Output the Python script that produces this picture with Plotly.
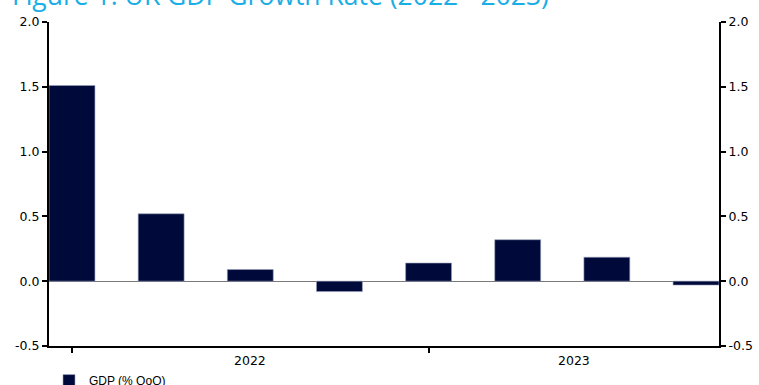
import plotly.graph_objects as go

# Quarterly UK GDP growth, % quarter on quarter
quarters = ["2022 Q1", "2022 Q2", "2022 Q3", "2022 Q4",
            "2023 Q1", "2023 Q2", "2023 Q3", "2023 Q4"]
gdp_qoq = [1.51, 0.52, 0.09, -0.08, 0.14, 0.32, 0.185, -0.03]
years = ["2022", "2023"]
y_ticks = [-0.5, 0.0, 0.5, 1.0, 1.5, 2.0]
y_tick_text = ["-0.5", "0.0", "0.5", "1.0", "1.5", "2.0"]

pos = list(range(len(quarters)))
x_range = [-0.258, len(quarters) - 1 + 0.258]
y_range = [-0.5, 2.0]

# year boundaries (first quarter of each year) and year label centres
year_starts = [i for i, q in enumerate(quarters) if q.endswith("Q1")]
year_mid = []
for k, s in enumerate(year_starts):
    end = year_starts[k + 1] if k + 1 < len(year_starts) else x_range[1]
    year_mid.append((s + end) / 2)

navy = "#000A3A"
tick_font = dict(family="DejaVu Sans, Verdana, sans-serif", size=12.5, color="#000000")

fig = go.Figure()
fig.add_trace(go.Bar(
    x=pos, y=gdp_qoq, name="GDP (% QoQ)",
    marker=dict(color=navy, line=dict(color="#9aa0bc", width=0.6)),
    width=0.515, hovertext=quarters,
))
# carries the mirrored right-hand value axis
fig.add_trace(go.Scatter(x=[None], y=[None], yaxis="y2", showlegend=False,
                         hoverinfo="skip"))

fig.update_layout(
    width=759, height=385,
    margin=dict(l=49, r=40, t=22, b=39, autoexpand=False),
    paper_bgcolor="white", plot_bgcolor="white",
    showlegend=True,
    legend=dict(x=0, y=-0.062, xanchor="left", yanchor="top",
                font=dict(family="Liberation Sans, Arial, sans-serif", size=12, color="#000000"),
                bgcolor="rgba(0,0,0,0)"),
    xaxis=dict(range=x_range, tickmode="array", tickvals=year_starts,
               ticktext=["" for _ in year_starts], ticks="outside", ticklen=5,
               tickwidth=2, tickcolor="#000000", showline=True, linecolor="#000000",
               linewidth=2, showgrid=False, zeroline=False),
    yaxis=dict(range=y_range, tickmode="array", tickvals=y_ticks, ticktext=y_tick_text,
               ticks="outside", ticklen=5, tickwidth=2, tickcolor="#000000",
               showline=True, linecolor="#000000", linewidth=2, showgrid=False,
               zeroline=True, zerolinecolor="#7a7a7a", zerolinewidth=1,
               tickfont=tick_font),
    yaxis2=dict(range=y_range, overlaying="y", side="right", tickmode="array",
                tickvals=y_ticks, ticktext=y_tick_text, ticks="outside", ticklen=5,
                tickwidth=2, tickcolor="#000000", showline=True, linecolor="#000000",
                linewidth=2, showgrid=False, zeroline=False, tickfont=tick_font),
)

for yr, xm in zip(years, year_mid):
    fig.add_annotation(x=xm, xref="x", y=-0.014, yref="paper", text=yr,
                       showarrow=False, yanchor="top", font=tick_font)

fig.add_annotation(x=-39 / 670, xref="paper", y=1.022, yref="paper",
                   xanchor="left", yanchor="bottom", showarrow=False,
                   text="Figure 1: UK GDP Growth Rate (2022 - 2023)",
                   font=dict(family="Open Sans, sans-serif", size=26.5, color="#1AAEE6"))

fig.write_html("out.html")
